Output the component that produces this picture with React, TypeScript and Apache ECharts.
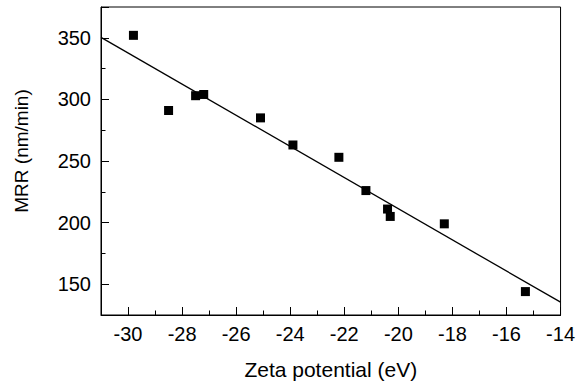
import React, { useEffect, useRef } from "react";
import * as echarts from "echarts";

const zetaPotential = [-29.8, -28.5, -27.5, -27.2, -25.1, -23.9, -22.2, -21.2, -20.4, -20.3, -18.3, -15.3];
const mrr = [352, 291, 303, 304, 285, 263, 253, 226, 211, 205, 199, 144];
const fitX = [-31, -14];
const fitY = [350.3, 135.4];
const xMajorTicks = [-30, -28, -26, -24, -22, -20, -18, -16, -14];
const yMajorTicks = [150, 200, 250, 300, 350];

const FONT = "Liberation Sans, Arial, sans-serif";

export default function App() {
  const ref = useRef<HTMLDivElement>(null);
  useEffect(() => {
    if (!ref.current) return;
    const chart = echarts.init(ref.current, null, { renderer: "svg" });
    const pts = zetaPotential.map((x, i) => [x, mrr[i]]);
    const fit = fitX.map((x, i) => [x, fitY[i]]);
    chart.setOption({
      animation: false,
      backgroundColor: "#fff",
      grid: {
        left: 101,
        right: 16,
        top: 7,
        bottom: 72,
        show: true,
        borderColor: "#000",
        borderWidth: 1,
      },
      xAxis: [
        {
          type: "value",
          min: -31,
          max: -14,
          splitNumber: 8,
          name: "Zeta potential (eV)",
          nameLocation: "middle",
          nameGap: 44,
          nameTextStyle: { fontFamily: FONT, fontSize: 21, color: "#000" },
          axisLine: { show: true, onZero: false, lineStyle: { color: "#000", width: 1 } },
          axisTick: { show: true, inside: true, length: 8, lineStyle: { color: "#000" } },
          axisLabel: {
            fontFamily: FONT,
            fontSize: 20,
            color: "#000",
            margin: 9,
            formatter: (v: number) => (xMajorTicks.includes(v) ? String(v) : ""),
          },
          splitLine: { show: false },
        },
        {
          type: "value",
          min: -31,
          max: -14,
          interval: 2,
          position: "bottom",
          axisLine: { show: false, onZero: false },
          axisTick: { show: true, inside: true, length: 4.5, lineStyle: { color: "#000" } },
          axisLabel: { show: false },
          splitLine: { show: false },
        },
      ],
      yAxis: [
        {
          type: "value",
          min: 125,
          max: 375,
          splitNumber: 5,
          name: "MRR (nm/min)",
          nameLocation: "middle",
          nameGap: 70,
          nameTextStyle: { fontFamily: FONT, fontSize: 19, color: "#000", padding: [0, 0, 0, 20] },
          axisLine: { show: true, onZero: false, lineStyle: { color: "#000", width: 1 } },
          axisTick: { show: true, inside: true, length: 8, lineStyle: { color: "#000" } },
          axisLabel: {
            fontFamily: FONT,
            fontSize: 20,
            color: "#000",
            margin: 10,
            formatter: (v: number) => (yMajorTicks.includes(v) ? String(v) : ""),
          },
          splitLine: { show: false },
        },
        {
          type: "value",
          min: 125,
          max: 375,
          interval: 50,
          position: "left",
          offset: 0,
          axisLine: { show: false, onZero: false },
          axisTick: { show: true, inside: true, length: 4.5, lineStyle: { color: "#000" } },
          axisLabel: { show: false },
          splitLine: { show: false },
        },
      ],
      series: [
        {
          type: "line",
          data: fit,
          xAxisIndex: 0,
          yAxisIndex: 0,
          showSymbol: false,
          symbol: "none",
          lineStyle: { color: "#000", width: 1.3 },
          silent: true,
        },
        {
          type: "scatter",
          data: pts,
          xAxisIndex: 0,
          yAxisIndex: 0,
          symbol: "rect",
          symbolSize: 9,
          itemStyle: { color: "#000", opacity: 1 },
        },
      ],
    });
    return () => chart.dispose();
  }, []);
  return <div ref={ref} style={{ width: 578, height: 387, position: "absolute", left: 0, top: 0 }} />;
}
